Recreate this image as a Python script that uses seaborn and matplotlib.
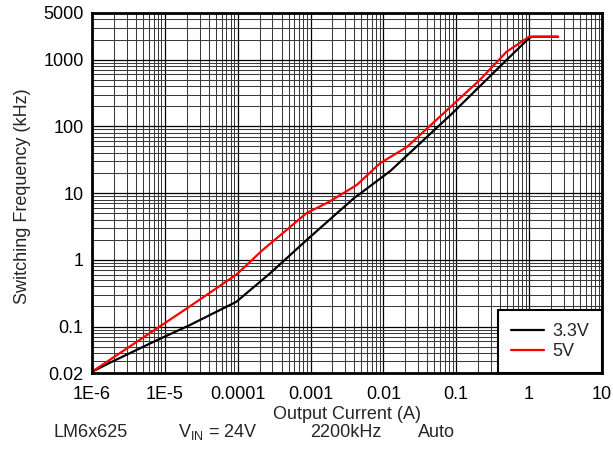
import numpy as np
import pandas as pd
import seaborn as sns
import matplotlib
matplotlib.use("Agg")
import matplotlib.pyplot as plt
from matplotlib.ticker import FixedLocator, LogLocator, NullFormatter

# data (output current in A, frequency in kHz)
i_33 = [1e-6, 1.8e-6, 7.7e-6, 2.2e-5, 9.6e-5, 2.8e-4, 8.8e-4, 3.9e-3, 0.0125, 0.09, 0.44, 1.0, 1.1, 2.5]
f_33 = [0.021, 0.029, 0.062, 0.105, 0.235, 0.63, 1.97, 8.3, 21.5, 160, 880, 2100, 2200, 2200]

i_5 = [1e-6, 2.2e-5, 9.6e-5, 2.2e-4, 8.8e-4, 1.8e-3, 4.3e-3, 9e-3, 0.021, 0.21, 0.49, 1.0, 2.5]
f_5 = [0.021, 0.2, 0.6, 1.4, 5.0, 7.4, 13.2, 28, 49, 494, 1310, 2200, 2200]

x_ticks = [1e-6, 1e-5, 1e-4, 1e-3, 1e-2, 0.1, 1, 10]
x_labels = ["1E-6", "1E-5", "0.0001", "0.001", "0.01", "0.1", "1", "10"]
y_ticks = [0.02, 0.1, 1, 10, 100, 1000, 5000]
y_labels = ["0.02", "0.1", "1", "10", "100", "1000", "5000"]

df = pd.concat([
    pd.DataFrame({"current": i_33, "freq": f_33, "Vout": "3.3V"}),
    pd.DataFrame({"current": i_5, "freq": f_5, "Vout": "5V"}),
], ignore_index=True)

sns.set_style("white")
plt.rcParams["font.family"] = ["Liberation Sans", "DejaVu Sans"]
plt.rcParams["mathtext.fontset"] = "custom"
plt.rcParams["mathtext.rm"] = "Liberation Sans"

FS = 13

fig = plt.figure(figsize=(6.13, 4.63), dpi=100)
ax = fig.add_axes([0.150, 0.194, 0.832, 0.778])

sns.lineplot(data=df, x="current", y="freq", hue="Vout", palette={"3.3V": "black", "5V": "red"},
             sort=False, estimator=None, linewidth=1.6, ax=ax)

ax.set_xscale("log")
ax.set_yscale("log")
ax.set_xlim(1e-6, 10)
ax.set_ylim(0.02, 5000)

ax.xaxis.set_major_locator(FixedLocator(x_ticks))
ax.set_xticklabels(x_labels)
ax.yaxis.set_major_locator(FixedLocator(y_ticks))
ax.set_yticklabels(y_labels)
ax.xaxis.set_minor_locator(LogLocator(base=10, subs=np.arange(2, 10)))
ax.yaxis.set_minor_locator(LogLocator(base=10, subs=np.arange(2, 10)))
ax.xaxis.set_minor_formatter(NullFormatter())
ax.yaxis.set_minor_formatter(NullFormatter())

ax.grid(True, which="major", color="black", linewidth=0.9)
ax.grid(True, which="minor", color="#3a3a3a", linewidth=0.75)
ax.set_axisbelow(True)
ax.tick_params(which="both", length=0, labelsize=FS, colors="black")
ax.tick_params(axis="x", pad=9)
ax.tick_params(axis="y", pad=6)

for s in ax.spines.values():
    s.set_linewidth(2)
    s.set_color("black")

ax.set_xlabel("Output Current (A)", fontsize=FS, labelpad=2.5)
ax.set_ylabel("Switching Frequency (kHz)", fontsize=FS)
ax.yaxis.set_label_coords(-0.1197, 0.49)

leg = ax.legend(loc="lower right", borderaxespad=0, fancybox=False, framealpha=1,
                edgecolor="black", fontsize=FS, handlelength=1.8, handletextpad=0.45,
                title=None, borderpad=0.72, labelspacing=0.15)
leg.get_frame().set_linewidth(1.5)

# caption row under the chart
fig.text(0.0865, 0.057, "LM6x625", fontsize=FS, va="baseline")
fig.text(0.290, 0.057, r"V$_{\mathregular{IN}}$ = 24V", fontsize=FS, va="baseline")
fig.text(0.506, 0.057, "2200kHz", fontsize=FS, va="baseline")
fig.text(0.682, 0.057, "Auto", fontsize=FS, va="baseline")

fig.savefig("out.png", dpi=100)
